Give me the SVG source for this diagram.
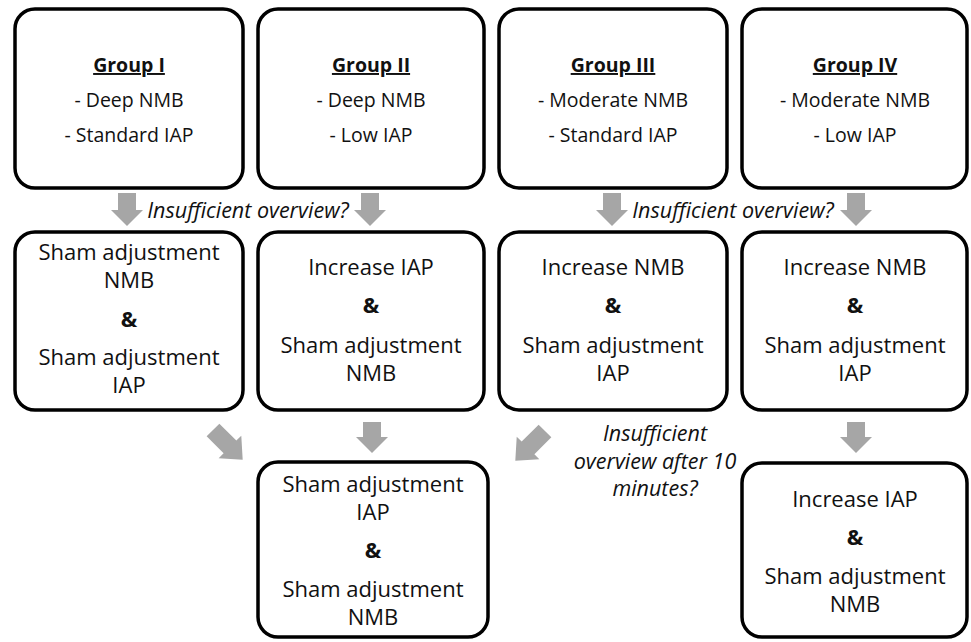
<svg xmlns="http://www.w3.org/2000/svg" width="971" height="642" viewBox="0 0 971 642">
<style>
.box{fill:#fff;stroke:#000;stroke-width:3.5}
.t{font-family:"Open Sans","Liberation Sans",sans-serif;fill:#111;text-anchor:middle}
.top{font-size:19.5px}
.mid{font-size:22px}
.amp{font-size:22px;font-weight:bold}
.hd{font-weight:bold;text-decoration:underline}
.q{font-family:"Open Sans","Liberation Sans",sans-serif;font-style:italic;font-size:21.5px;fill:#111;text-anchor:middle}
.arr{fill:#a6a6a6}
</style>
<defs>
<path id="down" d="M-9,0 H9 V17 H16 L0,33 L-16,17 H-9 Z"/>
<path id="down2" d="M-9,0 H9 V15 H16 L0,31 L-16,15 H-9 Z"/>
<path id="diag" d="M-9,0 H9 V24 H16 L0,42 L-16,24 H-9 Z"/>
</defs>
<rect width="971" height="642" fill="#fff"/>
<g id="connectors">
<use href="#down" class="arr" x="127" y="193"/>
<use href="#down" class="arr" x="370" y="193"/>
<use href="#down" class="arr" x="612" y="193"/>
<use href="#down" class="arr" x="856" y="193"/>
<use href="#down2" class="arr" x="372" y="422"/>
<use href="#down2" class="arr" x="856" y="422"/>
<use href="#diag" class="arr" transform="translate(213,430) rotate(-45)"/>
<use href="#diag" class="arr" transform="translate(545,431) rotate(45)"/>
<text class="q" x="248" y="218">Insufficient overview?</text>
<text class="q" x="733" y="218">Insufficient overview?</text>
<text class="q" x="655" y="441">Insufficient</text>
<text class="q" x="655" y="469">overview after 10</text>
<text class="q" x="655" y="496">minutes?</text>
</g>
<g id="group1">
<rect class="box" x="15" y="9" width="228" height="179" rx="20"/>
<text class="t top hd" x="129" y="72">Group I</text>
<text class="t top" x="129" y="107">- Deep NMB</text>
<text class="t top" x="129" y="142">- Standard IAP</text>
</g>
<g id="group2">
<rect class="box" x="258" y="9" width="226" height="179" rx="20"/>
<text class="t top hd" x="371" y="72">Group II</text>
<text class="t top" x="371" y="107">- Deep NMB</text>
<text class="t top" x="371" y="142">- Low IAP</text>
</g>
<g id="group3">
<rect class="box" x="499" y="9" width="228" height="179" rx="20"/>
<text class="t top hd" x="613" y="72">Group III</text>
<text class="t top" x="613" y="107">- Moderate NMB</text>
<text class="t top" x="613" y="142">- Standard IAP</text>
</g>
<g id="group4">
<rect class="box" x="742" y="9" width="225" height="179" rx="20"/>
<text class="t top hd" x="855" y="72">Group IV</text>
<text class="t top" x="855" y="107">- Moderate NMB</text>
<text class="t top" x="855" y="142">- Low IAP</text>
</g>
<g id="step1">
<rect class="box" x="15" y="232" width="228" height="178" rx="20"/>
<text class="t mid" x="129" y="260">Sham adjustment</text>
<text class="t mid" x="129" y="288">NMB</text>
<text class="t amp" x="129" y="327">&amp;</text>
<text class="t mid" x="129" y="365">Sham adjustment</text>
<text class="t mid" x="129" y="393">IAP</text>
</g>
<g id="step2">
<rect class="box" x="258" y="232" width="226" height="178" rx="20"/>
<text class="t mid" x="371" y="275">Increase IAP</text>
<text class="t amp" x="371" y="313">&amp;</text>
<text class="t mid" x="371" y="353">Sham adjustment</text>
<text class="t mid" x="371" y="381">NMB</text>
</g>
<g id="step3">
<rect class="box" x="499" y="232" width="228" height="178" rx="20"/>
<text class="t mid" x="613" y="275">Increase NMB</text>
<text class="t amp" x="613" y="313">&amp;</text>
<text class="t mid" x="613" y="353">Sham adjustment</text>
<text class="t mid" x="613" y="381">IAP</text>
</g>
<g id="step4">
<rect class="box" x="742" y="232" width="225" height="178" rx="20"/>
<text class="t mid" x="855" y="275">Increase NMB</text>
<text class="t amp" x="855" y="313">&amp;</text>
<text class="t mid" x="855" y="353">Sham adjustment</text>
<text class="t mid" x="855" y="381">IAP</text>
</g>
<g id="final1">
<rect class="box" x="258" y="462" width="230" height="175" rx="20"/>
<text class="t mid" x="373" y="492">Sham adjustment</text>
<text class="t mid" x="373" y="520">IAP</text>
<text class="t amp" x="373" y="558">&amp;</text>
<text class="t mid" x="373" y="597">Sham adjustment</text>
<text class="t mid" x="373" y="625">NMB</text>
</g>
<g id="final2">
<rect class="box" x="742" y="463" width="225" height="174" rx="20"/>
<text class="t mid" x="855" y="507">Increase IAP</text>
<text class="t amp" x="855" y="545">&amp;</text>
<text class="t mid" x="855" y="584">Sham adjustment</text>
<text class="t mid" x="855" y="612">NMB</text>
</g>
</svg>
